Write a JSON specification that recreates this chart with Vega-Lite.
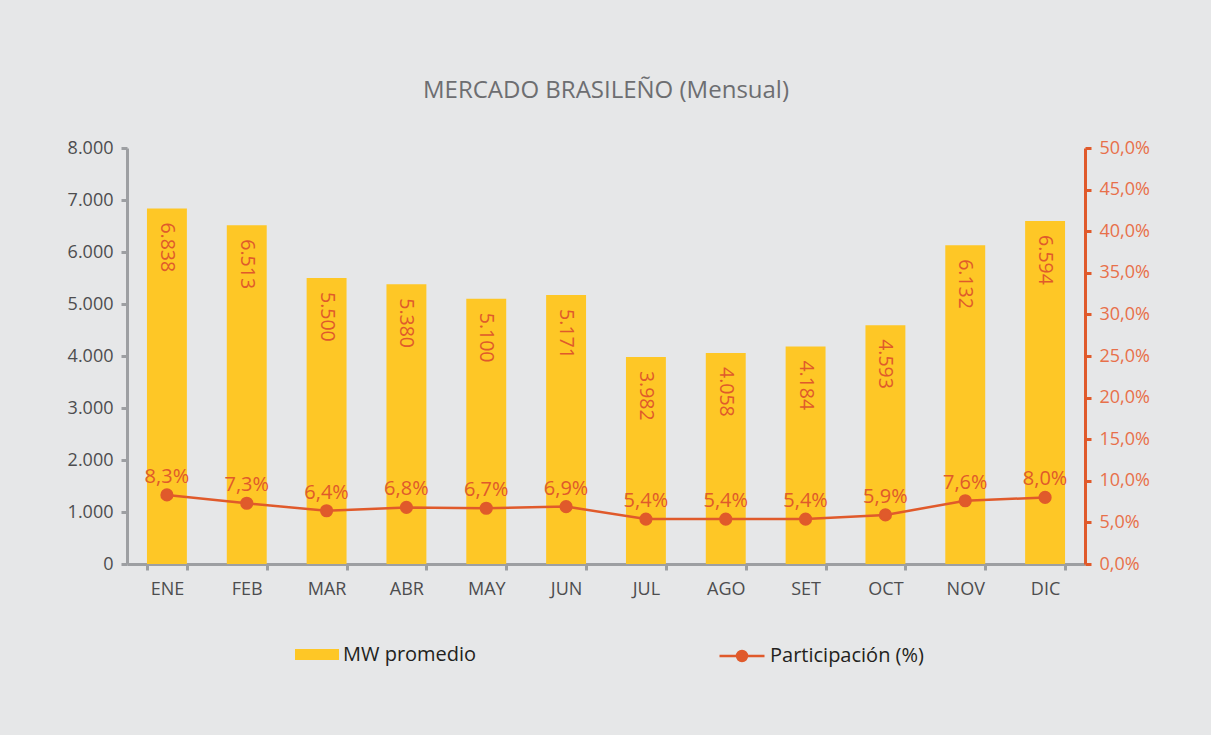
{
  "$schema": "https://vega.github.io/schema/vega-lite/v6.json",
  "width": 958,
  "height": 416,
  "autosize": {"type": "none"},
  "padding": {"left": 127, "top": 148, "right": 126, "bottom": 171},
  "background": "#e6e7e8",
  "config": {
    "view": {"stroke": null},
    "font": "Open Sans",
    "locale": {"number": {"decimal": ",", "thousands": ".", "grouping": [3], "currency": ["", ""]}}
  },
  "title": {
    "text": "MERCADO BRASILEÑO (Mensual)",
    "anchor": "middle",
    "fontSize": 24,
    "fontWeight": "normal",
    "color": "#6d6e71",
    "offset": 36
  },
  "data": {
    "values": [
      {"mes": "ENE", "mw": 6838, "pct": 0.083},
      {"mes": "FEB", "mw": 6513, "pct": 0.073},
      {"mes": "MAR", "mw": 5500, "pct": 0.064},
      {"mes": "ABR", "mw": 5380, "pct": 0.068},
      {"mes": "MAY", "mw": 5100, "pct": 0.067},
      {"mes": "JUN", "mw": 5171, "pct": 0.069},
      {"mes": "JUL", "mw": 3982, "pct": 0.054},
      {"mes": "AGO", "mw": 4058, "pct": 0.054},
      {"mes": "SET", "mw": 4184, "pct": 0.054},
      {"mes": "OCT", "mw": 4593, "pct": 0.059},
      {"mes": "NOV", "mw": 6132, "pct": 0.076},
      {"mes": "DIC", "mw": 6594, "pct": 0.080}
    ]
  },
  "encoding": {
    "x": {
      "field": "mes",
      "type": "ordinal",
      "sort": null,
      "scale": {"paddingInner": 0.5, "paddingOuter": 0.25},
      "axis": {
        "title": null,
        "labelAngle": 0,
        "labelFontSize": 18,
        "labelColor": "#4d4d4f",
        "labelPadding": 10,
        "domainColor": "#9d9fa2",
        "domainWidth": 3,
        "tickColor": "#9d9fa2",
        "tickWidth": 3,
        "tickSize": 6,
        "tickBand": "extent",
        "grid": false
      }
    }
  },
  "layer": [
    {
      "encoding": {
        "y": {
          "field": "mw",
          "type": "quantitative",
          "scale": {"domain": [0, 8000], "nice": false},
          "axis": {
            "title": null,
            "orient": "left",
            "values": [0, 1000, 2000, 3000, 4000, 5000, 6000, 7000, 8000],
            "format": ",.0f",
            "labelFontSize": 18,
            "labelColor": "#4d4d4f",
            "labelPadding": 8,
            "domainColor": "#9d9fa2",
            "domainWidth": 3,
            "tickColor": "#9d9fa2",
            "tickWidth": 3,
            "tickSize": 6,
            "grid": false
          }
        }
      },
      "layer": [
        {
          "mark": {"type": "bar"},
          "encoding": {
            "fill": {
              "datum": "MW promedio",
              "type": "nominal",
              "scale": {"range": ["#fec726"]},
              "legend": {
                "title": null,
                "orient": "none",
                "legendX": 168,
                "legendY": 484.5,
                "symbolType": "M-1,-0.25H1V0.25H-1Z",
                "symbolSize": 1936,
                "symbolStrokeWidth": 0,
                "labelFontSize": 20,
                "labelColor": "#231f20",
                "labelOffset": 4
              }
            }
          }
        },
        {
          "mark": {"type": "text", "angle": 90, "align": "left", "baseline": "middle", "dx": 14, "fontSize": 19.5, "color": "#e05a2b"},
          "encoding": {
            "text": {"field": "mw", "type": "quantitative", "format": ",.0f"}
          }
        }
      ]
    },
    {
      "encoding": {
        "y": {
          "field": "pct",
          "type": "quantitative",
          "scale": {"domain": [0, 0.5], "nice": false},
          "axis": {
            "title": null,
            "orient": "right",
            "values": [0, 0.05, 0.1, 0.15, 0.2, 0.25, 0.3, 0.35, 0.4, 0.45, 0.5],
            "format": ".1%",
            "labelFontSize": 18,
            "labelColor": "#e8704a",
            "labelPadding": 8,
            "domainColor": "#e05a2b",
            "domainWidth": 3,
            "tickColor": "#e05a2b",
            "tickWidth": 3,
            "tickSize": 6,
            "grid": false
          }
        }
      },
      "layer": [
        {
          "mark": {"type": "line", "strokeWidth": 2.5, "point": {"filled": true, "size": 125, "color": "#e05a2b"}},
          "encoding": {
            "stroke": {
              "datum": "Participación (%)",
              "type": "nominal",
              "scale": {"range": ["#e05a2b"]},
              "legend": {
                "title": null,
                "orient": "none",
                "legendX": 591,
                "legendY": 484,
                "symbolType": "M-1,0H1M0.22,0A0.22,0.22 0 1 1 -0.22,0A0.22,0.22 0 1 1 0.22,0Z",
                "symbolSize": 2025,
                "symbolStrokeWidth": 2.5,
                "labelFontSize": 20,
                "labelColor": "#231f20",
                "labelOffset": 4,
                "encode": {"symbols": {"update": {"fill": {"value": "#e05a2b"}, "stroke": {"value": "#e05a2b"}}}}
              }
            }
          }
        },
        {
          "mark": {"type": "text", "dy": -18, "fontSize": 20, "color": "#e05a2b"},
          "encoding": {
            "text": {"field": "pct", "type": "quantitative", "format": ".1%"}
          }
        }
      ]
    }
  ],
  "resolve": {"scale": {"y": "independent"}}
}
